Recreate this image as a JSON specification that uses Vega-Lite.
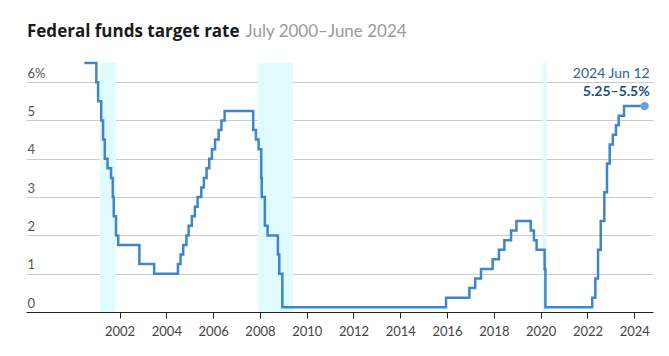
{
  "$schema": "https://vega.github.io/schema/vega-lite/v6.json",
  "autosize": {"type": "none"},
  "width": 627,
  "height": 249,
  "padding": {"left": 26, "top": 63, "right": 16, "bottom": 44},
  "background": "white",
  "config": {
    "font": "Lato",
    "view": {"stroke": null}
  },
  "title": {
    "text": "Federal funds target rate",
    "anchor": "start",
    "frame": "group",
    "font": "Open Sans",
    "fontSize": 17,
    "fontWeight": "bold",
    "color": "#1a1a1a",
    "baseline": "alphabetic",
    "offset": -32,
    "dx": 1
  },
  "datasets": {
    "rates": [
      {"date": "2000-07-01", "rate": 6.5},
      {"date": "2001-01-03", "rate": 6.0},
      {"date": "2001-01-31", "rate": 5.5},
      {"date": "2001-03-20", "rate": 5.0},
      {"date": "2001-04-18", "rate": 4.5},
      {"date": "2001-05-15", "rate": 4.0},
      {"date": "2001-06-27", "rate": 3.75},
      {"date": "2001-08-21", "rate": 3.5},
      {"date": "2001-09-17", "rate": 3.0},
      {"date": "2001-10-02", "rate": 2.5},
      {"date": "2001-11-06", "rate": 2.0},
      {"date": "2001-12-11", "rate": 1.75},
      {"date": "2002-11-06", "rate": 1.25},
      {"date": "2003-06-25", "rate": 1.0},
      {"date": "2004-06-30", "rate": 1.25},
      {"date": "2004-08-10", "rate": 1.5},
      {"date": "2004-09-21", "rate": 1.75},
      {"date": "2004-11-10", "rate": 2.0},
      {"date": "2004-12-14", "rate": 2.25},
      {"date": "2005-02-02", "rate": 2.5},
      {"date": "2005-03-22", "rate": 2.75},
      {"date": "2005-05-03", "rate": 3.0},
      {"date": "2005-06-30", "rate": 3.25},
      {"date": "2005-08-09", "rate": 3.5},
      {"date": "2005-09-20", "rate": 3.75},
      {"date": "2005-11-01", "rate": 4.0},
      {"date": "2005-12-13", "rate": 4.25},
      {"date": "2006-01-31", "rate": 4.5},
      {"date": "2006-03-28", "rate": 4.75},
      {"date": "2006-05-10", "rate": 5.0},
      {"date": "2006-06-29", "rate": 5.25},
      {"date": "2007-09-18", "rate": 4.75},
      {"date": "2007-10-31", "rate": 4.5},
      {"date": "2007-12-11", "rate": 4.25},
      {"date": "2008-01-22", "rate": 3.5},
      {"date": "2008-01-30", "rate": 3.0},
      {"date": "2008-03-18", "rate": 2.25},
      {"date": "2008-04-30", "rate": 2.0},
      {"date": "2008-10-08", "rate": 1.5},
      {"date": "2008-10-29", "rate": 1.0},
      {"date": "2008-12-16", "rate": 0.125},
      {"date": "2015-12-16", "rate": 0.375},
      {"date": "2016-12-14", "rate": 0.625},
      {"date": "2017-03-15", "rate": 0.875},
      {"date": "2017-06-14", "rate": 1.125},
      {"date": "2017-12-13", "rate": 1.375},
      {"date": "2018-03-21", "rate": 1.625},
      {"date": "2018-06-13", "rate": 1.875},
      {"date": "2018-09-26", "rate": 2.125},
      {"date": "2018-12-19", "rate": 2.375},
      {"date": "2019-07-31", "rate": 2.125},
      {"date": "2019-09-18", "rate": 1.875},
      {"date": "2019-10-30", "rate": 1.625},
      {"date": "2020-03-03", "rate": 1.125},
      {"date": "2020-03-15", "rate": 0.125},
      {"date": "2022-03-16", "rate": 0.375},
      {"date": "2022-05-04", "rate": 0.875},
      {"date": "2022-06-15", "rate": 1.625},
      {"date": "2022-07-27", "rate": 2.375},
      {"date": "2022-09-21", "rate": 3.125},
      {"date": "2022-11-02", "rate": 3.875},
      {"date": "2022-12-14", "rate": 4.375},
      {"date": "2023-02-01", "rate": 4.625},
      {"date": "2023-03-22", "rate": 4.875},
      {"date": "2023-05-03", "rate": 5.125},
      {"date": "2023-07-26", "rate": 5.375},
      {"date": "2024-06-12", "rate": 5.375}
    ],
    "recessions": [
      {"start": "2001-03-01", "end": "2001-11-01"},
      {"start": "2007-12-01", "end": "2009-06-01"},
      {"start": "2020-02-01", "end": "2020-04-01"}
    ],
    "latest": [
      {"date": "2024-06-12", "rate": 5.375, "when": "2024 Jun 12", "range": "5.25–5.5%"}
    ]
  },
  "layer": [
    {
      "data": {"name": "recessions"},
      "mark": {"type": "rect", "color": "#dffbfe"},
      "encoding": {
        "x": {"field": "start", "type": "temporal",
          "scale": {"domain": ["1998-01-01", "2024-10-20"]},
          "axis": {
            "values": [{"year": 2002}, {"year": 2004}, {"year": 2006}, {"year": 2008}, {"year": 2010}, {"year": 2012}, {"year": 2014}, {"year": 2016}, {"year": 2018}, {"year": 2020}, {"year": 2022}, {"year": 2024}],
            "format": "%Y",
            "title": null,
            "grid": false,
            "domainColor": "#222222",
            "domainWidth": 1,
            "tickColor": "#222222",
            "tickSize": 6,
            "labelColor": "#444444",
            "labelFontSize": 13,
            "labelPadding": 7,
            "labelFont": "Lato",
            "zindex": 1
          }
        },
        "x2": {"field": "end"},
        "y": {"datum": 0, "type": "quantitative",
          "scale": {"domain": [0, 6.5], "nice": false},
          "axis": {
            "values": [0, 1, 2, 3, 4, 5, 6],
            "labelExpr": "datum.value == 6 ? '6%' : datum.label",
            "grid": true,
            "gridColor": "#cccccc",
            "gridWidth": 1,
            "domain": false,
            "ticks": false,
            "tickSize": 0,
            "labelAlign": "left",
            "labelBaseline": "alphabetic",
            "labelOffset": -5,
            "labelPadding": -1,
            "labelColor": "#555555",
            "labelFontSize": 13,
            "labelFont": "Lato",
            "title": "July 2000–June 2024",
            "titleAngle": 0,
            "titleAlign": "left",
            "titleBaseline": "alphabetic",
            "titleX": 219,
            "titleY": -27,
            "titleFontSize": 17,
            "titleFontWeight": "normal",
            "titleColor": "#9a9a9a",
            "titleFont": "Lato"
          }
        },
        "y2": {"datum": 6.5}
      }
    },
    {
      "data": {"name": "rates"},
      "mark": {"type": "line", "interpolate": "step-after", "color": "#3d86c9", "strokeWidth": 2.5},
      "encoding": {
        "x": {"field": "date", "type": "temporal"},
        "y": {"field": "rate", "type": "quantitative"}
      }
    },
    {
      "data": {"name": "latest"},
      "mark": {"type": "circle", "color": "#6aa2dc", "opacity": 1, "size": 70},
      "encoding": {
        "x": {"field": "date", "type": "temporal"},
        "y": {"field": "rate", "type": "quantitative"}
      }
    },
    {
      "data": {"name": "latest"},
      "mark": {"type": "text", "align": "right", "baseline": "middle", "dx": 5, "dy": -32, "fontSize": 14, "color": "#2f6296"},
      "encoding": {
        "x": {"field": "date", "type": "temporal"},
        "y": {"field": "rate", "type": "quantitative"},
        "text": {"field": "when"}
      }
    },
    {
      "data": {"name": "latest"},
      "mark": {"type": "text", "align": "right", "baseline": "middle", "dx": 5, "dy": -14, "fontSize": 14, "fontWeight": "bold", "color": "#1d4f82"},
      "encoding": {
        "x": {"field": "date", "type": "temporal"},
        "y": {"field": "rate", "type": "quantitative"},
        "text": {"field": "range"}
      }
    }
  ]
}
